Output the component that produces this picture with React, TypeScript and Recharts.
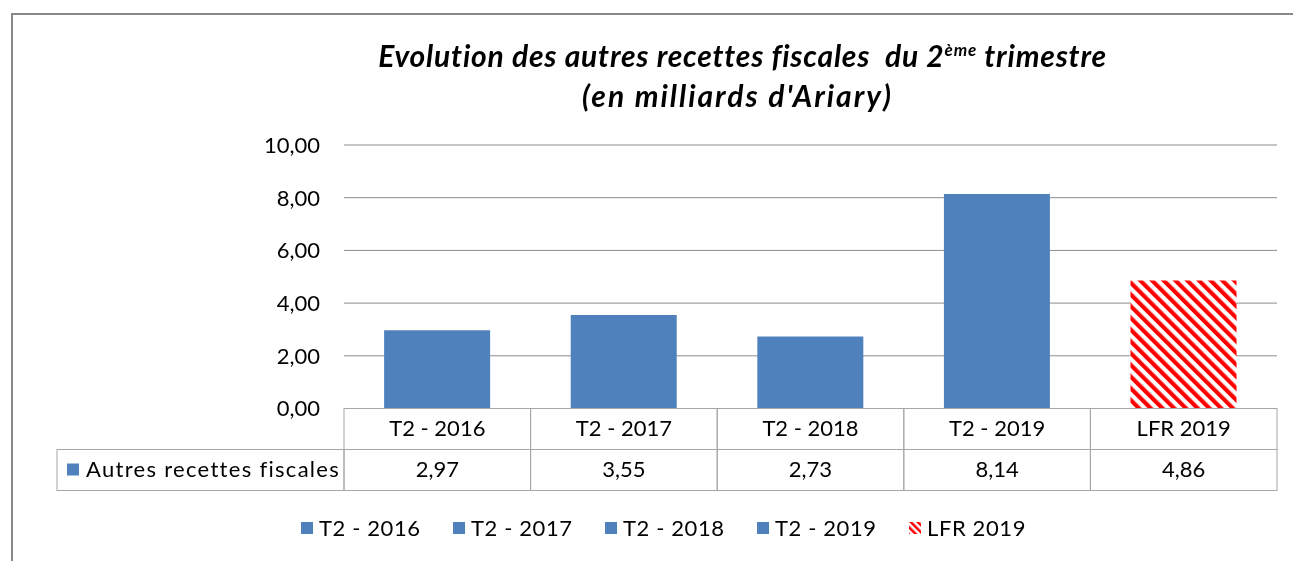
import React from "react";
import { Bar, BarChart, CartesianGrid, Cell, XAxis, YAxis } from "recharts";

const categories = ["T2 - 2016", "T2 - 2017", "T2 - 2018", "T2 - 2019", "LFR 2019"];
const values = [2.97, 3.55, 2.73, 8.14, 4.86];
const yTicks = [0, 2, 4, 6, 8, 10];
const seriesName = "Autres recettes fiscales";

const BLUE = "#4F81BD";
const GRID = "#8c8c8c";
const BORDER = "#a6a6a6";
const FONT = "Lato, 'Noto Sans', sans-serif";

const W = 1277;
const H = 545;
const margin = { top: 137, right: 8, bottom: 0, left: 276 };
const yAxisWidth = 60;
const band = (W - margin.left - yAxisWidth - margin.right) / categories.length;
const rowH = 41;

const data = categories.map((name, i) => ({ name, value: values[i] }));

const fmt = (v: number) => v.toFixed(2).replace(".", ",");

function TableTick(props: any) {
  const { x, y, payload, index } = props;
  const left = x - band / 2;
  return (
    <g>
      <rect x={left} y={y} width={band} height={rowH} fill="none" stroke={BORDER} />
      <rect x={left} y={y + rowH} width={band} height={rowH} fill="none" stroke={BORDER} />
      <text x={x} y={y + rowH / 2 + 7} textAnchor="middle" fontSize={22} fontFamily={FONT} fill="#000">
        {payload.value}
      </text>
      <text x={x} y={y + rowH * 1.5 + 7} textAnchor="middle" fontSize={22} fontFamily={FONT} fill="#000">
        {fmt(values[index])}
      </text>
      {index === 0 && (
        <g>
          <rect x={49} y={y + rowH} width={left - 49} height={rowH} fill="none" stroke={BORDER} />
          <rect x={59} y={y + rowH + 14} width={12} height={12} fill={BLUE} />
          <text
            x={78}
            y={y + rowH * 1.5 + 7}
            fontSize={22}
            fontFamily={FONT}
            fill="#000"
            letterSpacing={1.3}
          >
            {seriesName}
          </text>
        </g>
      )}
    </g>
  );
}

function Hatch({ id, size }: { id: string; size: number }) {
  return (
    <pattern id={id} patternUnits="userSpaceOnUse" width={size} height={size} patternTransform="rotate(-45)">
      <rect width={size} height={size} fill="#fff" />
      <rect width={size / 2} height={size} fill="#ff0000" />
    </pattern>
  );
}

export default function App() {
  return (
    <div style={{ position: "relative", width: W, height: H, fontFamily: FONT }}>
      {/* outer frame: only top and left edges show in the crop */}
      <div
        style={{
          position: "fixed",
          left: 11,
          top: 13,
          width: 1400,
          height: 700,
          borderTop: "2px solid #888",
          borderLeft: "2px solid #888",
          pointerEvents: "none",
        }}
      />
      <div
        style={{
          position: "absolute",
          left: 0,
          width: 1285,
          top: 27,
          textAlign: "center",
          paddingLeft: 184,
          boxSizing: "border-box",
          fontStyle: "italic",
          fontWeight: "bold",
          fontSize: 30,
          lineHeight: "40px",
          letterSpacing: 0.8,
          fontVariantLigatures: "none",
        }}
      >
        <div>
          Evolution des autres recettes fiscales&nbsp; du 2
          <sup style={{ fontSize: 17, verticalAlign: "super", lineHeight: 0 }}>ème</sup> trimestre
        </div>
        <div style={{ letterSpacing: 2, paddingRight: 10 }}>(en milliards d'Ariary)</div>
      </div>
      <svg width={0} height={0} style={{ position: "absolute" }}>
        <defs>
          <Hatch id="hatch" size={8.3} />
          <Hatch id="hatchSmall" size={5} />
        </defs>
      </svg>
      <BarChart
        width={W}
        height={H}
        data={data}
        margin={margin}
        barCategoryGap="21.5%"
        style={{ position: "absolute", left: 0, top: 0 }}
      >
        <CartesianGrid horizontal vertical={false} stroke={GRID} />
        <XAxis
          dataKey="name"
          height={H - margin.top - 263.5}
          axisLine={false}
          tickLine={false}
          tickSize={0}
          tickMargin={0}
          interval={0}
          tick={<TableTick />}
        />
        <YAxis
          width={yAxisWidth}
          domain={[0, 10]}
          ticks={yTicks}
          axisLine={false}
          tickLine={false}
          tickSize={0}
          tickMargin={24}
          tickFormatter={fmt}
          tick={{ fontSize: 22, fill: "#000", fontFamily: FONT }}
        />
        <Bar dataKey="value" isAnimationActive={false}>
          {data.map((d, i) => (
            <Cell key={d.name} fill={i === categories.length - 1 ? "url(#hatch)" : BLUE} />
          ))}
        </Bar>
      </BarChart>
      <div
        style={{
          position: "absolute",
          top: 507,
          left: 293,
          display: "flex",
          fontSize: 22,
          lineHeight: "26px",
          letterSpacing: 0.6,
        }}
      >
        {categories.map((c, i) => (
          <div key={c} style={{ display: "flex", alignItems: "center", width: 152 }}>
            <svg width={12} height={12} style={{ marginRight: 6 }}>
              <rect width={12} height={12} fill={i === categories.length - 1 ? "url(#hatchSmall)" : BLUE} />
            </svg>
            {c}
          </div>
        ))}
      </div>
    </div>
  );
}
